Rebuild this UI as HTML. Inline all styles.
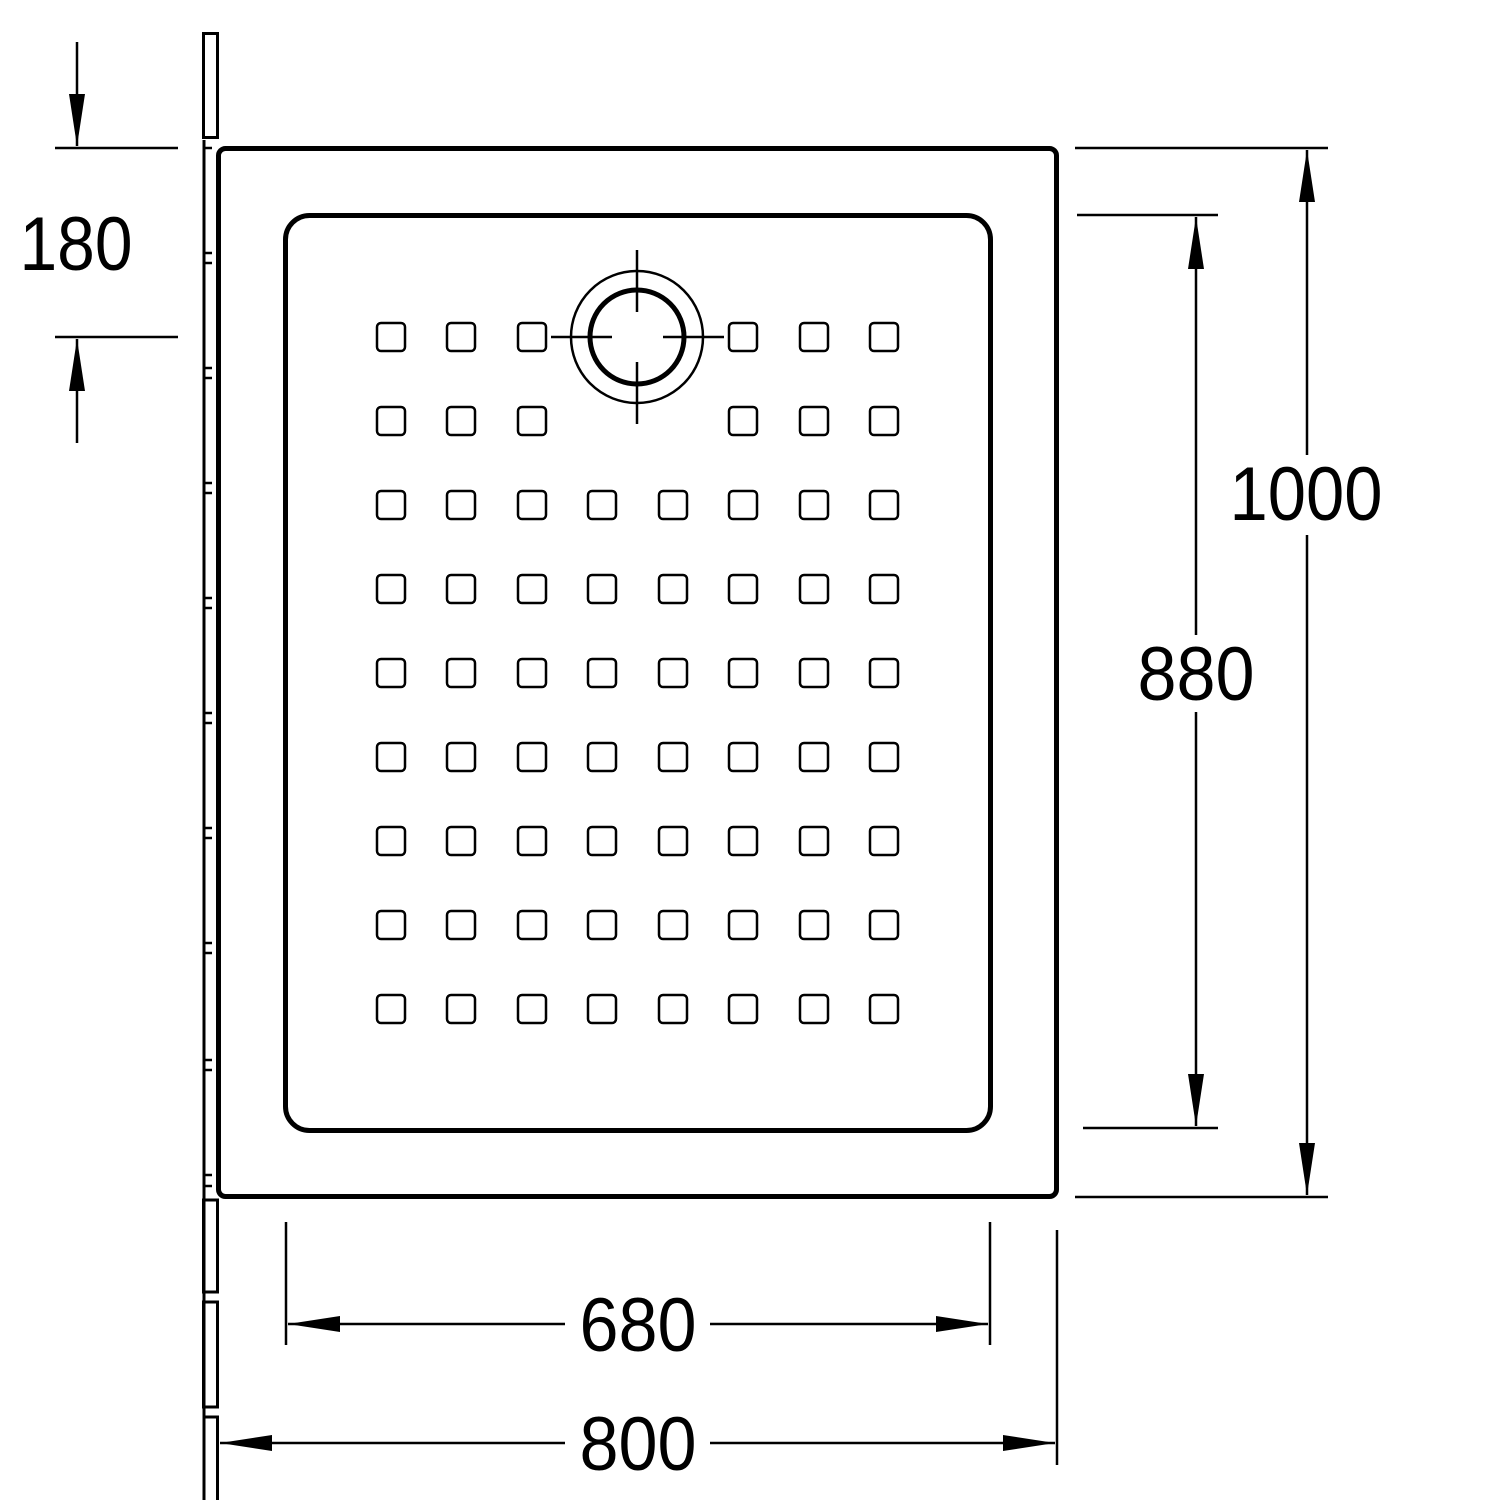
<!DOCTYPE html>
<html><head><meta charset="utf-8"><style>html,body{margin:0;padding:0;background:#fff}svg{display:block}</style></head>
<body>
<svg width="1500" height="1500" viewBox="0 0 1500 1500" xmlns="http://www.w3.org/2000/svg">
<defs>
<marker id="a" viewBox="0 0 52 16" refX="52" refY="8" markerWidth="52" markerHeight="16" markerUnits="userSpaceOnUse" orient="auto"><path d="M0,0 L52,8 L0,16 Z" fill="#000"/></marker>
</defs>
<g fill="none" stroke="#000">
<!-- wall -->
<rect x="203.5" y="33.5" width="14" height="104" stroke-width="3"/>
<line x1="204" y1="140" x2="204" y2="1500" stroke-width="3"/>
<rect x="203.5" y="1200" width="14" height="92" stroke-width="3"/>
<rect x="203.5" y="1302" width="14" height="105" stroke-width="3"/>
<path d="M217.5 1500 V1417 H204" stroke-width="3"/>
<g stroke-width="2.5">
<line x1="204" y1="148" x2="212" y2="148"/>
<line x1="204" y1="253" x2="212" y2="253"/><line x1="204" y1="263" x2="212" y2="263"/>
<line x1="204" y1="368" x2="212" y2="368"/><line x1="204" y1="378" x2="212" y2="378"/>
<line x1="204" y1="483" x2="212" y2="483"/><line x1="204" y1="493" x2="212" y2="493"/>
<line x1="204" y1="598" x2="212" y2="598"/><line x1="204" y1="608" x2="212" y2="608"/>
<line x1="204" y1="713" x2="212" y2="713"/><line x1="204" y1="723" x2="212" y2="723"/>
<line x1="204" y1="828" x2="212" y2="828"/><line x1="204" y1="838" x2="212" y2="838"/>
<line x1="204" y1="943" x2="212" y2="943"/><line x1="204" y1="953" x2="212" y2="953"/>
<line x1="204" y1="1060" x2="212" y2="1060"/><line x1="204" y1="1070" x2="212" y2="1070"/>
<line x1="204" y1="1175" x2="212" y2="1175"/><line x1="204" y1="1186" x2="212" y2="1186"/>
</g>
<!-- tray -->
<rect x="218.5" y="148.5" width="838" height="1048" rx="7" stroke-width="5"/>
<rect x="285.5" y="215.5" width="705" height="915" rx="24" stroke-width="5"/>
<!-- drain -->
<circle cx="637" cy="337" r="66" stroke-width="2.5"/>
<circle cx="637" cy="337" r="47" stroke-width="5"/>
<g stroke-width="2.5">
<line x1="637" y1="250" x2="637" y2="312"/><line x1="637" y1="362" x2="637" y2="424"/>
<line x1="551" y1="337" x2="612" y2="337"/><line x1="663" y1="337" x2="724" y2="337"/>
</g>
<!-- dims -->
<g stroke-width="2.5">
<line x1="55" y1="148" x2="178" y2="148"/><line x1="55" y1="337" x2="178" y2="337"/>
<line x1="77" y1="42" x2="77" y2="146" marker-end="url(#a)"/>
<line x1="77" y1="443" x2="77" y2="339" marker-end="url(#a)"/>
<line x1="1075" y1="148" x2="1328" y2="148"/><line x1="1075" y1="1197" x2="1328" y2="1197"/>
<line x1="1077" y1="215" x2="1218" y2="215"/><line x1="1083" y1="1128" x2="1218" y2="1128"/>
<line x1="1307" y1="455" x2="1307" y2="150" marker-end="url(#a)"/>
<line x1="1307" y1="535" x2="1307" y2="1195" marker-end="url(#a)"/>
<line x1="1196" y1="635" x2="1196" y2="217" marker-end="url(#a)"/>
<line x1="1196" y1="712" x2="1196" y2="1126" marker-end="url(#a)"/>
<line x1="286" y1="1222" x2="286" y2="1345"/><line x1="990" y1="1222" x2="990" y2="1345"/>
<line x1="1057" y1="1230" x2="1057" y2="1465"/>
<line x1="565" y1="1324" x2="288" y2="1324" marker-end="url(#a)"/>
<line x1="710" y1="1324" x2="988" y2="1324" marker-end="url(#a)"/>
<line x1="565" y1="1443" x2="220" y2="1443" marker-end="url(#a)"/>
<line x1="710" y1="1443" x2="1055" y2="1443" marker-end="url(#a)"/>
</g>
<!-- squares -->
<g stroke-width="2.5" id="sq">
<rect x="377" y="323" width="28" height="28" rx="4"/><rect x="447" y="323" width="28" height="28" rx="4"/><rect x="518" y="323" width="28" height="28" rx="4"/><rect x="729" y="323" width="28" height="28" rx="4"/><rect x="800" y="323" width="28" height="28" rx="4"/><rect x="870" y="323" width="28" height="28" rx="4"/>
<rect x="377" y="407" width="28" height="28" rx="4"/><rect x="447" y="407" width="28" height="28" rx="4"/><rect x="518" y="407" width="28" height="28" rx="4"/><rect x="729" y="407" width="28" height="28" rx="4"/><rect x="800" y="407" width="28" height="28" rx="4"/><rect x="870" y="407" width="28" height="28" rx="4"/>
</g>
<g stroke-width="2.5">
<g id="row"><rect x="377" y="491" width="28" height="28" rx="4"/><rect x="447" y="491" width="28" height="28" rx="4"/><rect x="518" y="491" width="28" height="28" rx="4"/><rect x="588" y="491" width="28" height="28" rx="4"/><rect x="659" y="491" width="28" height="28" rx="4"/><rect x="729" y="491" width="28" height="28" rx="4"/><rect x="800" y="491" width="28" height="28" rx="4"/><rect x="870" y="491" width="28" height="28" rx="4"/></g>
<use href="#row" y="84"/><use href="#row" y="168"/><use href="#row" y="252"/><use href="#row" y="336"/><use href="#row" y="420"/><use href="#row" y="504"/>
</g>
</g>
<g font-family="Liberation Sans, sans-serif" font-size="76" fill="#000" text-anchor="middle">
<text x="76" y="270" textLength="113" lengthAdjust="spacingAndGlyphs">180</text>
<text x="1306" y="520" textLength="153" lengthAdjust="spacingAndGlyphs">1000</text>
<text x="1196" y="700" textLength="117" lengthAdjust="spacingAndGlyphs">880</text>
<text x="638" y="1351" textLength="117" lengthAdjust="spacingAndGlyphs">680</text>
<text x="638" y="1470" textLength="117" lengthAdjust="spacingAndGlyphs">800</text>
</g>
</svg>
</body></html>
